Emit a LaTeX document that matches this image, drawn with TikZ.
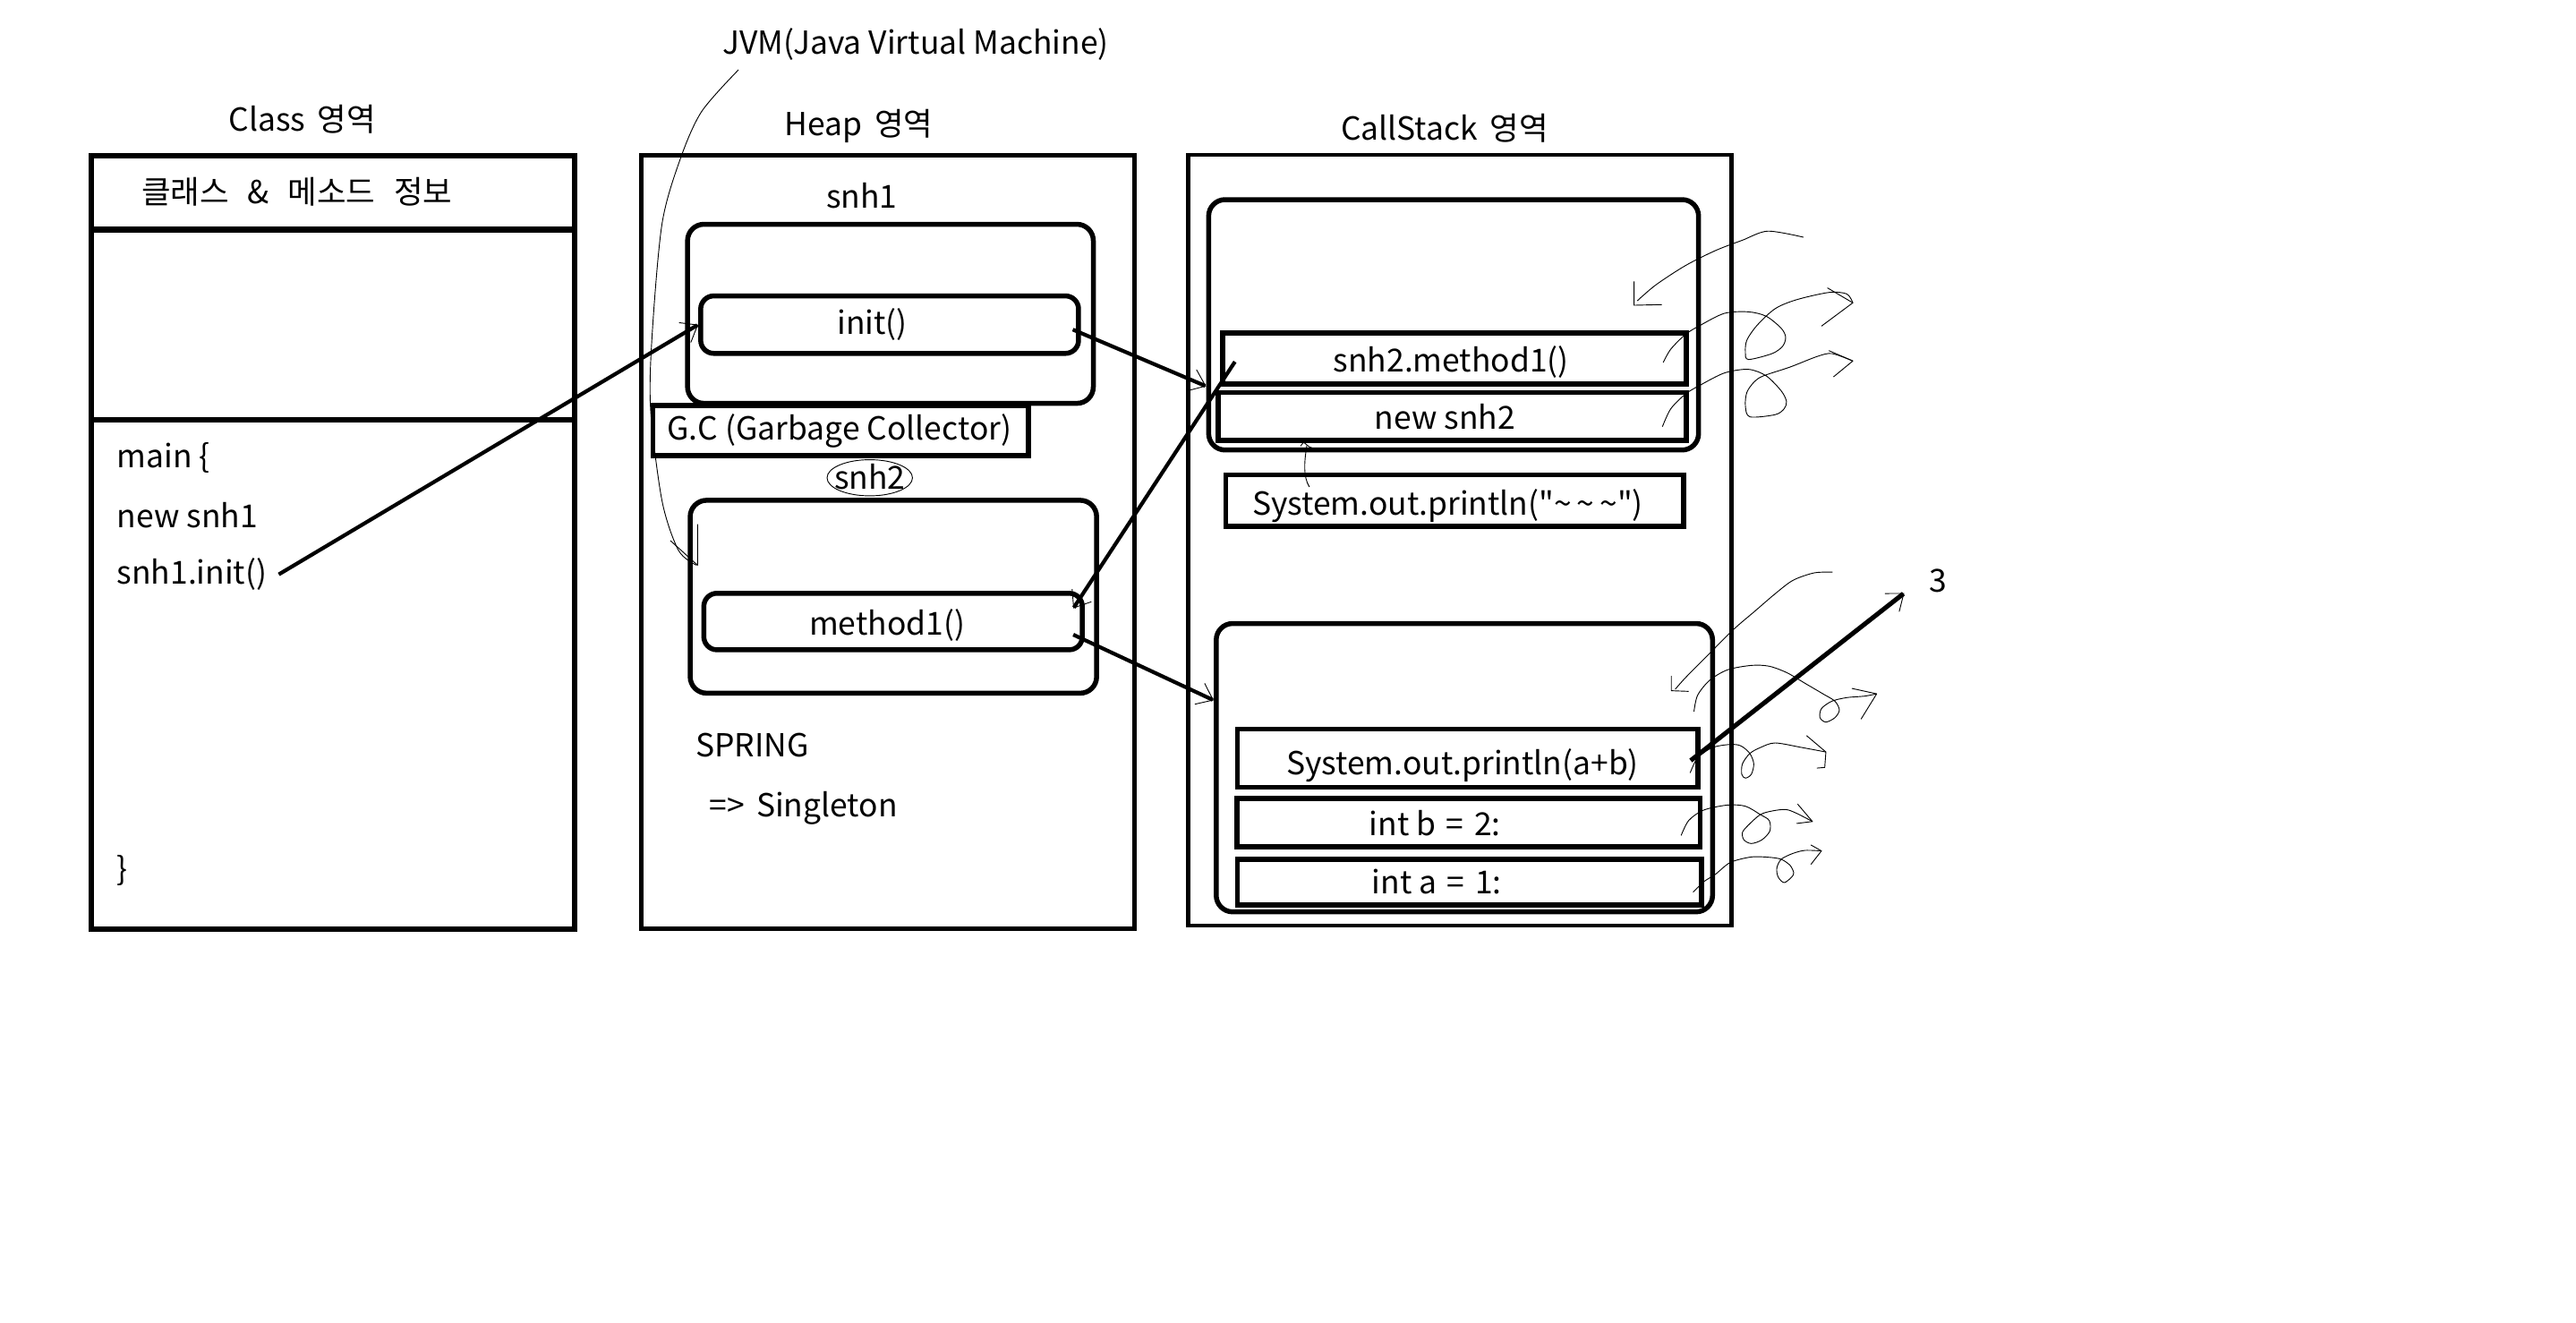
\documentclass[tikz,border=0pt]{standalone}
\usepackage{fontspec}
\setmainfont{Noto Sans CJK KR}[Ligatures=TeXOff]
\usetikzlibrary{arrows.meta}

\begin{document}
\begin{tikzpicture}[x=1pt, y=-1pt, font=\fontsize{19.3}{23}\selectfont,
  area/.style={draw, line width=2.8pt, anchor=north west, inner sep=0pt},
  obj/.style={draw, line width=3pt, rounded corners=10pt, anchor=north west, inner sep=0pt},
  meth/.style={draw, line width=3pt, rounded corners=8pt, anchor=north west, inner sep=0pt},
  slot/.style={draw, line width=3pt, anchor=north west, inner sep=0pt},
  txt/.style={anchor=base west, inner sep=0pt},
  call/.style={line width=2.3pt, -{Straight Barb[line width=0.5pt, length=9pt, width=14pt]}},
  scribble/.style={line width=0.5pt, line join=round}]

\useasboundingbox (0,0) rectangle (1568,805);

\node[txt] (jvm) at (439.5,32.8) {JVM(Java Virtual Machine)};

% Class area
\node[area, line width=3.4pt, minimum width=294pt, minimum height=471pt] (classarea) at (54,93) {};
\node[area, line width=3.4pt, minimum width=294pt, minimum height=45pt] (classhead) at (54,93) {};
\node[area, line width=3.4pt, minimum width=294pt, minimum height=310pt] (classmain) at (54,254) {};
\node[txt] (classtitle) at (139,80) {Class\hspace{3pt} 영역};
\node[txt] (classinfo) at (86,124) {클래스\hspace{7pt} \&\hspace{7pt} 메소드\hspace{7pt} 정보};
\node[txt] (mainopen) at (71,284.5) {main \{};
\node[txt] (newsnh1) at (71,321) {new snh1};
\node[txt] (callinit) at (71,355.6) {snh1.init()};
\node[txt] (mainclose) at (71,535.6) {\}};

% Heap area
\node[area, minimum width=300pt, minimum height=471pt] (heaparea) at (389,93) {};
\node[txt] (heaptitle) at (477.6,82.5) {Heap\hspace{3pt} 영역};
\node[txt] (snh1lbl) at (502.7,126.6) {snh1};
\node[obj, minimum width=247pt, minimum height=109pt] (snh1) at (417,135) {};
\node[meth, minimum width=230pt, minimum height=35pt] (init) at (425,178.6) {};
\node[txt] (initlbl) at (509.4,203.5) {init()};
\node[slot, minimum width=228.5pt, minimum height=30.5pt] (gc) at (396,245.3) {};
\node[txt] (gclbl) at (406,268) {G.C (Garbage Collector)};
\node[txt] (snh2lbl) at (507.6,297.8) {snh2};
\node[obj, minimum width=247.4pt, minimum height=117.4pt] (snh2) at (418.6,303) {};
\node[meth, minimum width=230.4pt, minimum height=34.4pt] (method1) at (426.9,359.6) {};
\node[txt] (method1lbl) at (492.4,386.4) {method1()};
\node[txt] (spring) at (423.3,460.9) {SPRING};
\node[txt] (singleton) at (431.5,496.9) {=>\hspace{3pt} Singleton};

% CallStack area
\node[area, line width=2.6pt, minimum width=330.8pt, minimum height=469pt] (stackarea) at (722,93) {};
\node[txt] (stacktitle) at (816,85.1) {CallStack\hspace{3pt} 영역};
\node[obj, minimum width=298.2pt, minimum height=152.4pt] (frame1) at (734.2,120) {};
\node[slot, minimum width=282.1pt, minimum height=30.9pt] (m1call) at (742.7,201.2) {};
\node[txt] (m1calllbl) at (811.4,226.2) {snh2.method1()};
\node[slot, minimum width=284.8pt, minimum height=29pt] (newsnh2) at (740,237.5) {};
\node[txt] (newsnh2lbl) at (836.5,261.5) {new snh2};
\node[slot, minimum width=278.7pt, minimum height=31.3pt] (printtilde) at (744.6,287.5) {};
\node[txt] (printtildelbl) at (762,313.8) {System.out.println("\textasciitilde\,\textasciitilde\,\textasciitilde")};
\node[obj, minimum width=302.1pt, minimum height=175.5pt] (frame2) at (738.8,378) {};
\node[slot, minimum width=280.3pt, minimum height=35.4pt] (printab) at (751.8,442.2) {};
\node[txt] (printablbl) at (782.7,471.3) {System.out.println(a+b)};
\node[slot, minimum width=281.9pt, minimum height=29.5pt] (intb) at (751.4,484.5) {};
\node[txt] (intblbl) at (833.3,508.4) {int b\hspace{2pt} =\hspace{2pt} 2:};
\node[slot, minimum width=282.4pt, minimum height=27.8pt] (inta) at (751.8,521.6) {};
\node[txt] (intalbl) at (834.9,543.8) {int a\hspace{2pt} =\hspace{2pt} 1:};
\node[txt] (result) at (1174.1,360.5) {3};

% calls
\draw[call] ([xshift=7pt]callinit.east) -- (init.west);
\draw[call] ([xshift=-5pt, yshift=-3pt]init.east) -- (frame1.west |- m1call.south);
\draw[call] ([xshift=9pt, yshift=-2pt]m1call.west) -- ([xshift=-7pt, yshift=8pt]method1.east);
\draw[call] ([xshift=-7pt, yshift=-8pt]method1.east) -- ([yshift=41pt]frame2.west);
\draw[call, line width=2.8pt] ([xshift=-6pt, yshift=-1.5pt]printab.east) -- ([xshift=-15pt]result.south west);

% JVM curve
\draw[scribble] plot[smooth] coordinates {(449.5,42.5) (427,68) (414,97) (403,136) (397,203) (396,249) (403,305) (413,335) (424,344)};
\draw[scribble] (424.6,319) -- (424.6,344) -- (408,329);

% circled snh2, println -> new snh2
\draw[scribble] ([yshift=7pt]snh2lbl.base -| snh2lbl.center) ellipse [x radius=26pt, y radius=11pt];
\draw[scribble] (797,296.4) .. controls (793,290) and (794,280) .. (795.5,271);
\draw[scribble] (791.6,271.5) -- (793.5,269.2) -- (797,272) -- (801,273.5);

% pop scribbles, first frame
\draw[scribble] plot[smooth] coordinates {(1097.8,144.4) (1076,140.7) (1060.6,146.2) (1044.2,152.5) (1026,161.6) (1007.9,173.4) (996.6,183.1)};
\draw[scribble] (994.6,171.3) -- (994.6,185.8) -- (1011.5,185.4);
\draw[scribble] plot[smooth] coordinates {(1012.4,220.6) (1017,212.5) (1026.1,203.4) (1035.1,197.9) (1049.7,190.7) (1064.2,189.8) (1075.1,192.5) (1084.2,199.8) (1086.9,205.2) (1085.1,210.7) (1078.7,215.2) (1064.2,218.8) (1062.4,214.3) (1063.3,207) (1069.6,197.9) (1080.5,187.9) (1093.3,182.5) (1113.2,178) (1124.1,178.9) (1127.8,184.3)};
\draw[scribble] (1112.3,175.2) -- (1127.8,184.3) -- (1108.7,198.5);
\draw[scribble] plot[smooth] coordinates {(1011.9,259.7) (1017,248.8) (1026.1,239.7) (1035.1,234.3) (1049.7,227) (1064.2,224.8) (1075.1,228.8) (1084.2,237.9) (1087.4,244.3) (1086,248.8) (1080.5,252.4) (1065.1,253.7) (1062.4,247) (1063.3,238.8) (1067.8,232.4) (1073.3,228.8) (1089.6,223.4) (1106,217) (1115.1,215.2) (1127.8,219.7)};
\draw[scribble] (1113.2,213.4) -- (1127.8,219.7) -- (1116,229.4);

% pop scribbles, second frame
\draw[scribble] plot[smooth] coordinates {(1115.4,348.2) (1104.2,348.7) (1091.4,353.2) (1080.5,361.4) (1067.8,372.3) (1055.1,383.2) (1038.8,399.5) (1026.1,412.3) (1019.7,419.5)};
\draw[scribble] (1017.3,411.4) -- (1017.3,420.4) -- (1027.9,420.8);
\draw[scribble] plot[smooth] coordinates {(1031.1,433.1) (1033.3,423.2) (1040.6,414.1) (1051.5,407.7) (1066,405) (1076.9,405.5) (1087.8,409.5) (1098.7,415.9) (1109.6,422.3) (1116.9,426.8) (1119.6,432.2) (1116.9,436.8) (1111.4,439.5) (1107.8,436.8) (1108.7,431.3) (1115,426.8) (1124.1,424.6) (1135,423.7) (1142.3,422.3)};
\draw[scribble] (1127.2,419) -- (1142.3,422.3) -- (1132.8,437.7);
\draw[scribble] plot[smooth] coordinates {(1028.8,470.4) (1033.3,461.3) (1042.4,455) (1053.3,453.1) (1059.7,454) (1065.1,458.6) (1067.5,464.9) (1066,471.3) (1062.4,473.6) (1060.2,471.3) (1060.6,464.9) (1065.1,458.6) (1071.5,455) (1080.5,452.2) (1096.9,455) (1111.4,457.7)};
\draw[scribble] (1099.6,447.7) -- (1111.4,457.7) -- (1110.7,467.1) -- (1105.9,467.5);
\draw[scribble] plot[smooth] coordinates {(1023.3,508.5) (1027.9,499.4) (1036.9,493.1) (1051.5,490) (1062.4,490.7) (1071.5,495.8) (1076.9,499.4) (1077.3,505.8) (1072.4,511.2) (1066,513.4) (1061.5,511.2) (1060.6,506.7) (1064.2,502.2) (1071.5,495.8) (1078.7,493.6) (1086.9,492.7) (1093.3,494.9) (1103.2,500)};
\draw[scribble] (1094.2,489.4) -- (1103.2,500) -- (1093.6,501.2);
\draw[scribble] plot[smooth] coordinates {(1030.6,543) (1037,536.7) (1044.2,532.1) (1053.3,524.9) (1066,521.6) (1076.9,521.8) (1084.2,523) (1089.6,526.7) (1091.8,531.2) (1090.5,533.9) (1086,537.2) (1082.4,533.9) (1081.5,528.5) (1084.2,523) (1091.4,519.4) (1098.7,517.6) (1108.7,517.9)};
\draw[scribble] (1102.3,514.3) -- (1108.7,517.9) -- (1102.3,526.1);
\end{tikzpicture}
\end{document}
